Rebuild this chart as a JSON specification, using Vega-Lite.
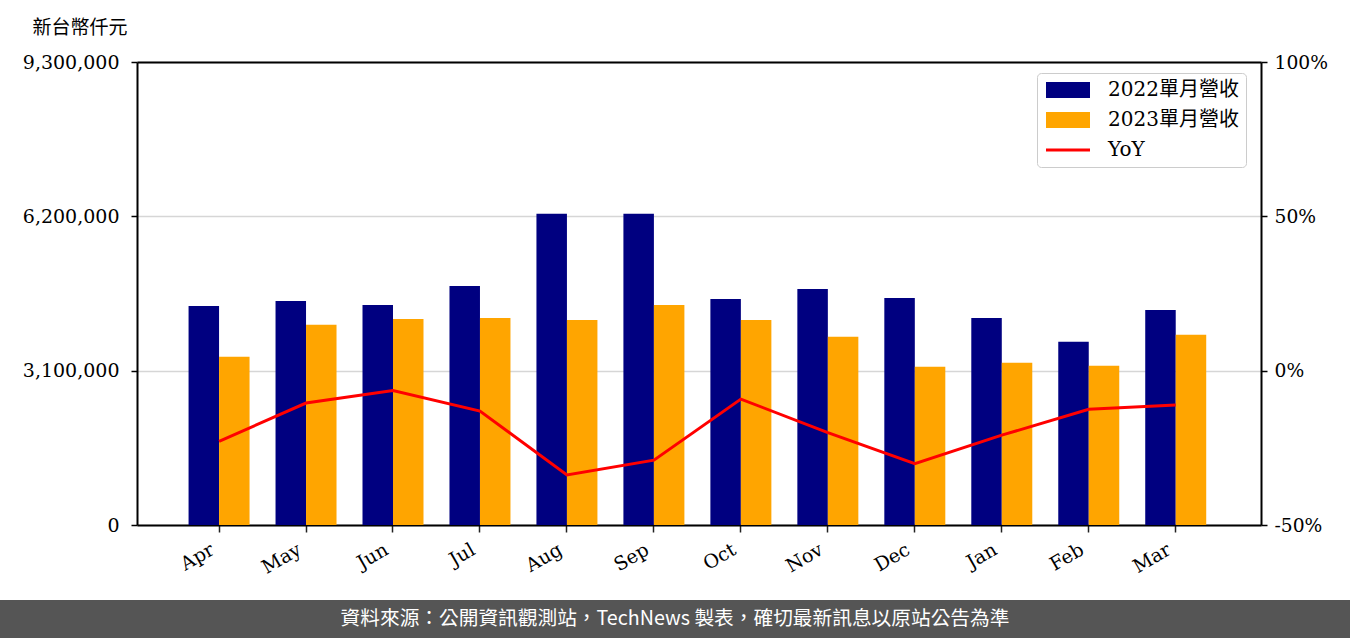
{
  "$schema": "https://vega.github.io/schema/vega-lite/v6.json",
  "padding": 0,
  "background": "white",
  "spacing": 0,
  "datasets": {
    "bars": [
      {"month": "Apr", "series": "2022單月營收", "value": 4400000},
      {"month": "Apr", "series": "2023單月營收", "value": 3380000},
      {"month": "May", "series": "2022單月營收", "value": 4500000},
      {"month": "May", "series": "2023單月營收", "value": 4020000},
      {"month": "Jun", "series": "2022單月營收", "value": 4420000},
      {"month": "Jun", "series": "2023單月營收", "value": 4140000},
      {"month": "Jul", "series": "2022單月營收", "value": 4800000},
      {"month": "Jul", "series": "2023單月營收", "value": 4160000},
      {"month": "Aug", "series": "2022單月營收", "value": 6250000},
      {"month": "Aug", "series": "2023單月營收", "value": 4120000},
      {"month": "Sep", "series": "2022單月營收", "value": 6250000},
      {"month": "Sep", "series": "2023單月營收", "value": 4420000},
      {"month": "Oct", "series": "2022單月營收", "value": 4540000},
      {"month": "Oct", "series": "2023單月營收", "value": 4120000},
      {"month": "Nov", "series": "2022單月營收", "value": 4740000},
      {"month": "Nov", "series": "2023單月營收", "value": 3780000},
      {"month": "Dec", "series": "2022單月營收", "value": 4560000},
      {"month": "Dec", "series": "2023單月營收", "value": 3180000},
      {"month": "Jan", "series": "2022單月營收", "value": 4160000},
      {"month": "Jan", "series": "2023單月營收", "value": 3260000},
      {"month": "Feb", "series": "2022單月營收", "value": 3680000},
      {"month": "Feb", "series": "2023單月營收", "value": 3200000},
      {"month": "Mar", "series": "2022單月營收", "value": 4320000},
      {"month": "Mar", "series": "2023單月營收", "value": 3820000}
    ],
    "yoy": [
      {"month": "Apr", "series": "YoY", "yoy": -22.9},
      {"month": "May", "series": "YoY", "yoy": -10.5},
      {"month": "Jun", "series": "YoY", "yoy": -6.4},
      {"month": "Jul", "series": "YoY", "yoy": -13.1},
      {"month": "Aug", "series": "YoY", "yoy": -33.8},
      {"month": "Sep", "series": "YoY", "yoy": -29.0},
      {"month": "Oct", "series": "YoY", "yoy": -9.2},
      {"month": "Nov", "series": "YoY", "yoy": -20.1},
      {"month": "Dec", "series": "YoY", "yoy": -30.1},
      {"month": "Jan", "series": "YoY", "yoy": -20.9},
      {"month": "Feb", "series": "YoY", "yoy": -12.5},
      {"month": "Mar", "series": "YoY", "yoy": -11.1}
    ],
    "footer": [
      {"t": "資料來源：公開資訊觀測站，TechNews 製表，確切最新訊息以原站公告為準"}
    ]
  },
  "vconcat": [
    {
      "width": 1350,
      "height": 600,
      "view": {"stroke": null},
      "resolve": {"scale": {"y": "independent"}, "axis": {"x": "independent"}},
      "layer": [
        {
          "data": {"name": "bars"},
          "mark": {"type": "bar"},
          "encoding": {
            "x": {
              "field": "month",
              "type": "nominal",
              "scale": {
                "domain": ["Apr", "May", "Jun", "Jul", "Aug", "Sep", "Oct", "Nov", "Dec", "Jan", "Feb", "Mar"],
                "range": [137, 1261],
                "paddingInner": 0,
                "paddingOuter": 0.462,
                "align": 0.48
              },
              "axis": {
                "orient": "bottom",
                "offset": -75,
                "title": null,
                "labelAngle": -30,
                "labelFont": "DejaVu Serif",
                "labelFontSize": 19,
                "labelColor": "#000000",
                "labelPadding": 8,
                "labelOffset": -11,
                "tickColor": "#222222",
                "tickSize": 7,
                "tickWidth": 1.5,
                "domainColor": "#000000",
                "domainWidth": 2,
                "grid": false
              }
            },
            "xOffset": {
              "field": "series",
              "type": "nominal",
              "scale": {"paddingInner": 0, "paddingOuter": 0.426}
            },
            "y": {
              "field": "value",
              "type": "quantitative",
              "scale": {"domain": [0, 9300000], "range": [525, 62], "nice": false, "zero": true},
              "axis": {
                "offset": -137,
                "values": [0, 3100000, 6200000, 9300000],
                "format": ",d",
                "title": "新台幣仟元",
                "titleAngle": 0,
                "titleAlign": "left",
                "titleBaseline": "top",
                "titleX": -105,
                "titleY": 18,
                "titleFont": "Noto Sans CJK TC",
                "titleFontSize": 19,
                "titleFontWeight": "normal",
                "titleColor": "#000000",
                "labelFont": "DejaVu Serif",
                "labelFontSize": 19,
                "labelColor": "#000000",
                "labelPadding": 12,
                "tickColor": "#000000",
                "tickSize": 6,
                "tickWidth": 1.5,
                "domainColor": "#000000",
                "domainWidth": 2,
                "grid": true,
                "gridColor": "#d6d6d6",
                "gridWidth": 1.5
              }
            },
            "color": {
              "field": "series",
              "type": "nominal",
              "scale": {
                "domain": ["2022單月營收", "2023單月營收", "YoY"],
                "range": ["#000080", "#FFA500", "#FF0000"]
              },
              "legend": {
                "title": null,
                "orient": "none",
                "legendX": 1037,
                "legendY": 73,
                "padding": 7,
                "fillColor": "#ffffff",
                "strokeColor": "#cccccc",
                "cornerRadius": 4,
                "labelFont": "DejaVu Serif, Noto Sans CJK TC",
                "labelFontSize": 20,
                "labelColor": "#000000",
                "labelOffset": 44,
                "symbolSize": 256,
                "rowPadding": 10,
                "encode": {
                  "symbols": {
                    "update": {
                      "shape": {"signal": "datum.value === 'YoY' ? 'M-1,0H4.5' : 'M-1,-1H4.5V1H-1Z'"},
                      "fill": {"signal": "datum.value === 'YoY' ? 'transparent' : scale('color', datum.value)"},
                      "stroke": {"signal": "scale('color', datum.value)"},
                      "strokeWidth": {"signal": "datum.value === 'YoY' ? 3 : 0"},
                      "size": {"value": 256},
                      "opacity": {"value": 1},
                      "fillOpacity": {"value": 1},
                      "strokeOpacity": {"value": 1}
                    }
                  }
                }
              }
            }
          }
        },
        {
          "data": {"name": "yoy"},
          "mark": {"type": "line", "strokeWidth": 3},
          "encoding": {
            "x": {
              "field": "month",
              "type": "nominal",
              "scale": {
                "domain": ["Apr", "May", "Jun", "Jul", "Aug", "Sep", "Oct", "Nov", "Dec", "Jan", "Feb", "Mar"],
                "range": [137, 1261],
                "paddingInner": 0,
                "paddingOuter": 0.462,
                "align": 0.48
              },
              "axis": {
                "orient": "top",
                "offset": -62,
                "title": null,
                "labels": false,
                "ticks": false,
                "grid": false,
                "domainColor": "#000000",
                "domainWidth": 2
              }
            },
            "y": {
              "field": "yoy",
              "type": "quantitative",
              "scale": {"domain": [-50, 100], "range": [525, 62], "nice": false, "zero": false},
              "axis": {
                "orient": "right",
                "offset": -89,
                "values": [-50, 0, 50, 100],
                "labelExpr": "datum.value + '%'",
                "title": null,
                "labelFont": "DejaVu Serif",
                "labelFontSize": 18.7,
                "labelColor": "#000000",
                "labelPadding": 7,
                "tickColor": "#000000",
                "tickSize": 6,
                "tickWidth": 1.5,
                "domainColor": "#000000",
                "domainWidth": 2,
                "grid": false
              }
            },
            "color": {"field": "series", "type": "nominal"}
          }
        }
      ]
    },
    {
      "width": 1350,
      "height": 38,
      "view": {"fill": "#555555", "stroke": null},
      "data": {"name": "footer"},
      "mark": {
        "type": "text",
        "font": "Noto Sans CJK TC",
        "fontSize": 19.7,
        "color": "#ffffff",
        "align": "center",
        "baseline": "middle"
      },
      "encoding": {
        "text": {"field": "t", "type": "nominal"}
      }
    }
  ]
}
